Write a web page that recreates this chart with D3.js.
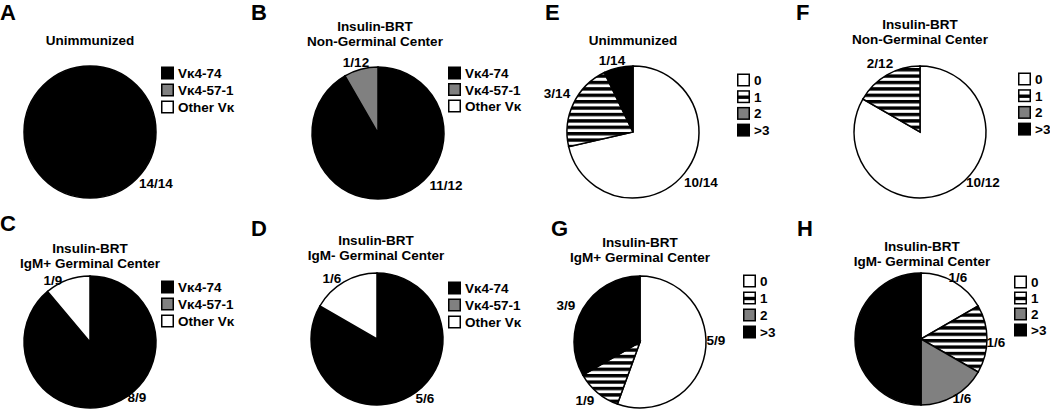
<!DOCTYPE html>
<html>
<head>
<meta charset="utf-8">
<script src="https://cdn.jsdelivr.net/npm/d3@7/dist/d3.min.js"></script>
<style>
  html, body { margin: 0; padding: 0; background: #fff; }
  svg { display: block; }
  text { font-family: "Liberation Sans", Arial, Helvetica, sans-serif; font-weight: bold; fill: #000; }
</style>
</head>
<body>
<svg id="chart" width="1050" height="411"></svg>
<script>
// ---- data ----
const vkCategories = ["Vκ4-74", "Vκ4-57-1", "Other Vκ"];
const mutCategories = ["0", "1", "2", ">3"];

const panelLetters = ["A", "B", "C", "D", "E", "F", "G", "H"];
const panelTitles = [
  ["Unimmunized"],
  ["Insulin-BRT", "Non-Germinal Center"],
  ["Insulin-BRT", "IgM+ Germinal Center"],
  ["Insulin-BRT", "IgM- Germinal Center"],
  ["Unimmunized"],
  ["Insulin-BRT", "Non-Germinal Center"],
  ["Insulin-BRT", "IgM+ Germinal Center"],
  ["Insulin-BRT", "IgM- Germinal Center"]
];

// counts of sequences per category
const vkA = [14, 0, 0];
const vkB = [11, 1, 0];
const vkC = [8, 0, 1];
const vkD = [5, 0, 1];
const mutE = [10, 3, 0, 1];
const mutF = [10, 2, 0, 0];
const mutG = [5, 1, 0, 3];
const mutH = [1, 1, 1, 3];

const panelValues = [vkA, vkB, vkC, vkD, mutE, mutF, mutG, mutH];
const panelTypes = ["vk", "vk", "vk", "vk", "mut", "mut", "mut", "mut"];

// ---- layout (positions only) ----
const R = 66;
const FS = 13.5;
const layout = [
  { cx: 90,  cy: 132, lx: 0,   ly: 20,  tx: 90,  ty: 40,  legX: 161,  legY: 73,  legDy: 17,
    labels: [[66, 51]] },
  { cx: 378, cy: 133, lx: 251, ly: 20,  tx: 375, ty: 26,  legX: 448,  legY: 73,  legDy: 16.5,
    labels: [[68, 52], [-22, -71]] },
  { cx: 90,  cy: 342, lx: 0,   ly: 231, tx: 90,  ty: 248, legX: 161,  legY: 287, legDy: 17,
    labels: [[47, 55], null, [-37, -62]] },
  { cx: 377, cy: 339, lx: 251, ly: 236, tx: 376, ty: 240, legX: 448,  legY: 288, legDy: 17,
    labels: [[48, 59], null, [-45, -61]] },
  { cx: 633, cy: 132, lx: 545, ly: 20,  tx: 633, ty: 40,  legX: 737,  legY: 80,  legDy: 16.7,
    labels: [[68, 50], [-76, -39], null, [-21, -72]] },
  { cx: 920, cy: 132, lx: 796, ly: 20,  tx: 920, ty: 24,  legX: 1018, legY: 79,  legDy: 16.7,
    labels: [[63, 50], [-40, -69]] },
  { cx: 640, cy: 342, lx: 551, ly: 236, tx: 640, ty: 242, legX: 743,  legY: 281, legDy: 17,
    labels: [[76, -2], [-55, 58], null, [-74, -37]] },
  { cx: 921, cy: 339, lx: 797, ly: 236, tx: 922, ty: 246, legX: 1014, legY: 282, legDy: 16,
    labels: [[37, -62], [75, 3], [41, 59], [-52, -14]] }
];

const svg = d3.select("#chart");

// stripe pattern
const defs = svg.append("defs");
const pat = defs.append("pattern")
  .attr("id", "stripes")
  .attr("patternUnits", "userSpaceOnUse")
  .attr("width", 10).attr("height", 6.4);
pat.append("rect").attr("width", 10).attr("height", 6.4).attr("fill", "#fff");
pat.append("rect").attr("width", 10).attr("height", 3.4).attr("fill", "#000");

const vkColor = d3.scaleOrdinal().domain(vkCategories).range(["#000", "#808080", "#fff"]);
const mutColor = d3.scaleOrdinal().domain(mutCategories).range(["#fff", "url(#stripes)", "#808080", "#000"]);

const pie = d3.pie().sort(null).value(d => d.v);
const arc = d3.arc().innerRadius(0).outerRadius(R);

panelValues.forEach((vals, i) => {
  const L = layout[i];
  const cats = panelTypes[i] === "vk" ? vkCategories : mutCategories;
  const color = panelTypes[i] === "vk" ? vkColor : mutColor;
  const total = d3.sum(vals);
  const data = vals.map((v, k) => ({ v, cat: cats[k], k }));

  // letter
  svg.append("text").attr("x", L.lx).attr("y", L.ly)
    .attr("font-size", 22).text(panelLetters[i]);

  // title
  panelTitles[i].forEach((line, j) => {
    svg.append("text").attr("x", L.tx).attr("y", L.ty + j * 15)
      .attr("text-anchor", "middle").attr("dominant-baseline", "central")
      .attr("font-size", FS).text(line);
  });

  // pie
  const g = svg.append("g").attr("transform", `translate(${L.cx},${L.cy})`);
  const arcs = pie(data).filter(d => d.data.v > 0);
  g.selectAll("path").data(arcs).join("path")
    .attr("d", arc)
    .attr("fill", d => color(d.data.cat))
    .attr("stroke", "#000")
    .attr("stroke-width", 1.5)
    .attr("stroke-linejoin", "miter");

  // slice labels
  arcs.forEach(d => {
    const off = L.labels[d.data.k];
    if (!off) return;
    g.append("text").attr("x", off[0]).attr("y", off[1])
      .attr("text-anchor", "middle").attr("dominant-baseline", "central")
      .attr("font-size", FS).text(`${d.data.v}/${total}`);
  });

  // legend
  const lg = svg.append("g").attr("transform", `translate(${L.legX},${L.legY})`);
  cats.forEach((c, k) => {
    const row = lg.append("g").attr("transform", `translate(0,${k * L.legDy})`);
    if (panelTypes[i] === "mut" && c === "1") {
      row.append("rect").attr("x", 0.75).attr("y", -5.75).attr("width", 11.5).attr("height", 11.5)
        .attr("fill", "#fff").attr("stroke", "#000").attr("stroke-width", 1.5);
      row.append("rect").attr("x", 0.75).attr("y", -1.2).attr("width", 11.5).attr("height", 3.4)
        .attr("fill", "#000");
    } else {
      row.append("rect").attr("x", 0.75).attr("y", -5.75).attr("width", 11.5).attr("height", 11.5)
        .attr("fill", color(c)).attr("stroke", "#000").attr("stroke-width", 1.5);
    }
    row.append("text").attr("x", 17).attr("y", 0.5)
      .attr("dominant-baseline", "central")
      .attr("font-size", FS).text(c);
  });
});
</script>
</body>
</html>
